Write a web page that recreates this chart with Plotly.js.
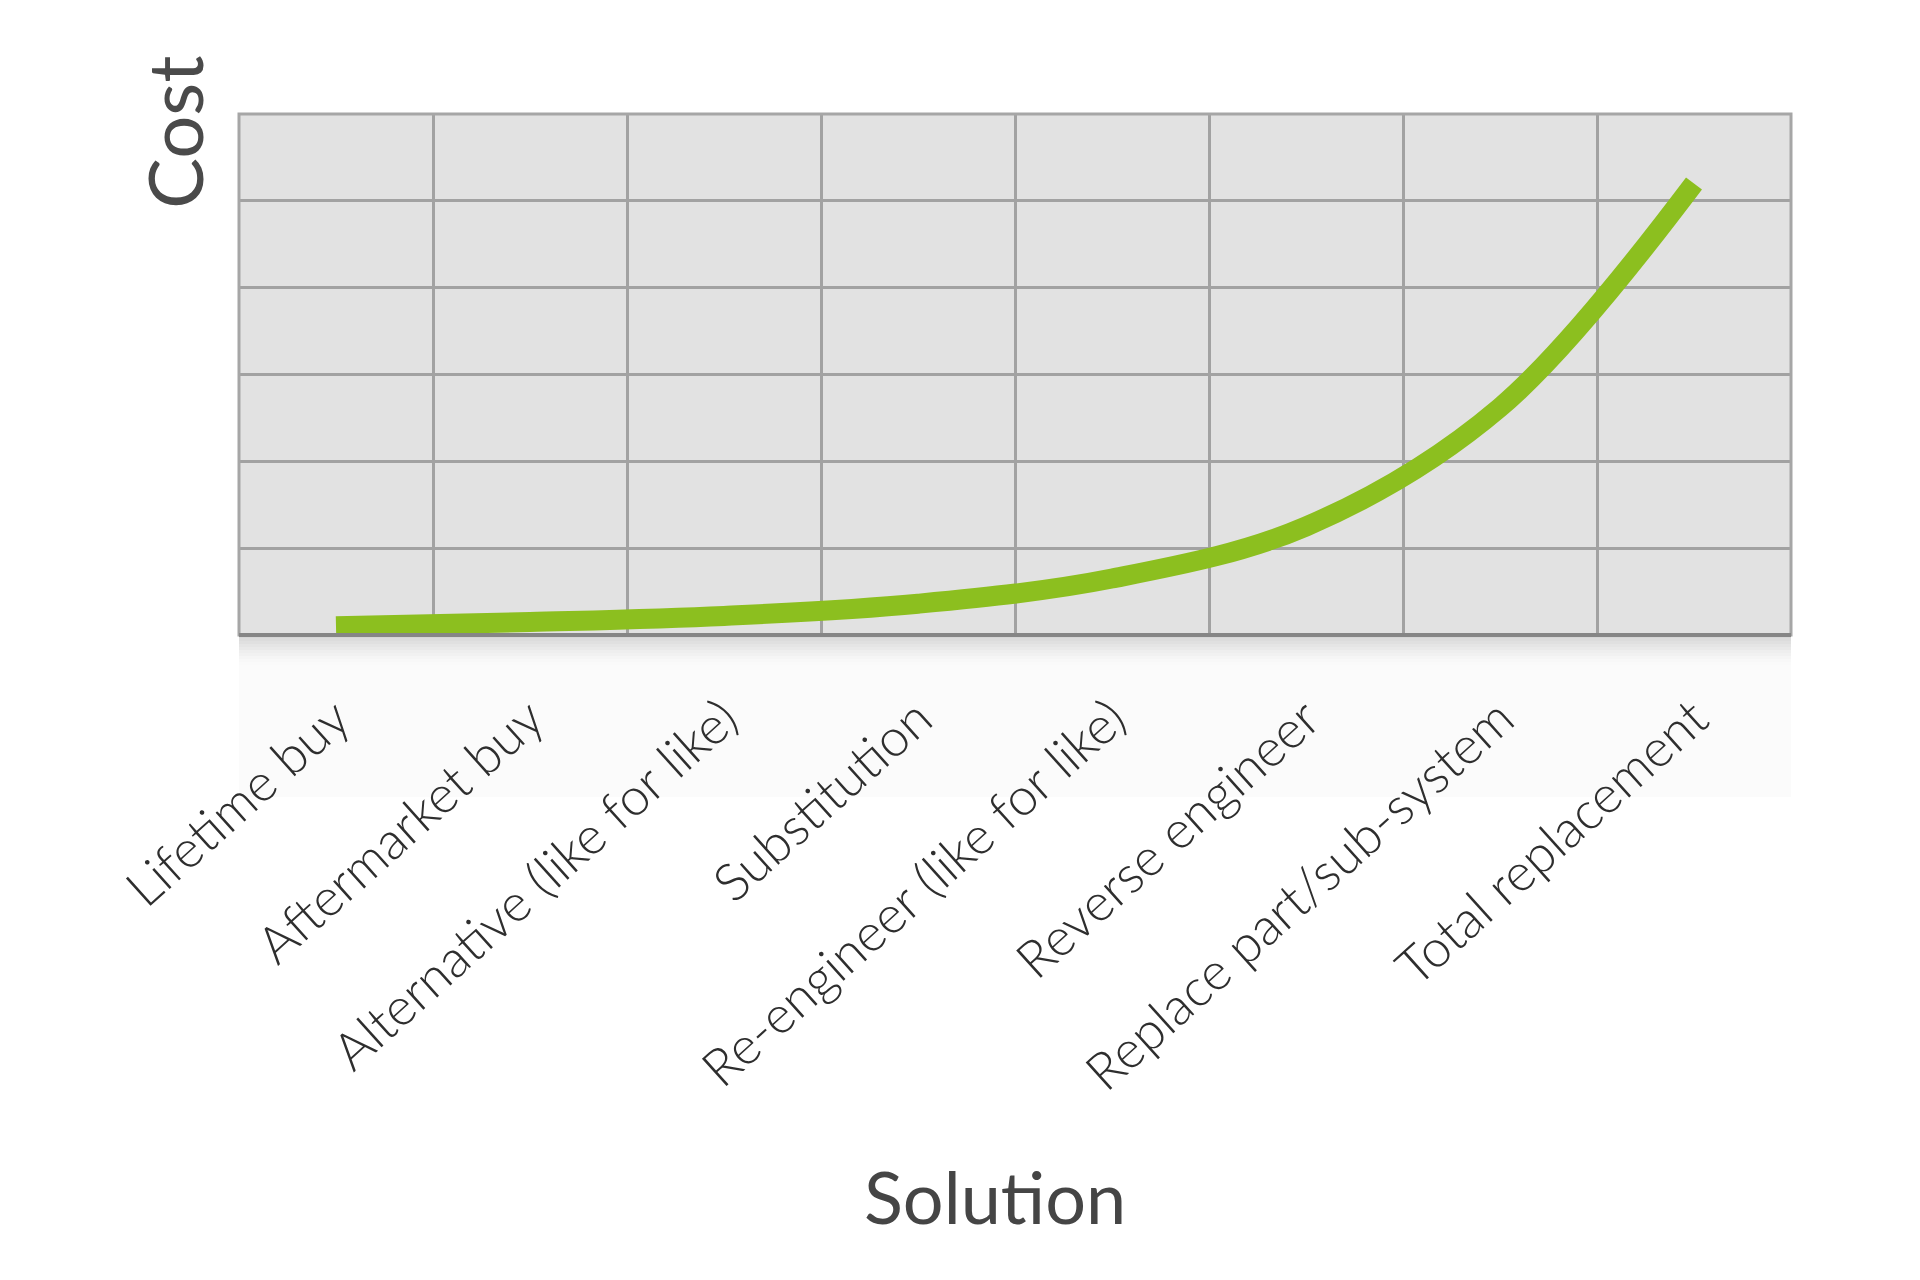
<!DOCTYPE html>
<html>
<head>
<meta charset="utf-8">
<script src="https://cdn.plot.ly/plotly-3.0.1.min.js"></script>
<style>
  html, body { margin: 0; padding: 0; background: #fff; }
  #chart { width: 1920px; height: 1280px; }
</style>
</head>
<body>
<div id="chart"></div>
<script>
// categories along the bottom, left to right
var solutions = [
  'Lifetime buy',
  'Aftermarket buy',
  'Alternative (like for like)',
  'Substitution',
  'Re-engineer (like for like)',
  'Reverse engineer',
  'Replace part/sub-system',
  'Total replacement'
];

// relative cost (one grid row = 1)
var cost = [0.10, 0.15, 0.22, 0.36, 0.65, 1.25, 2.62, 5.2];

var gridRows = 6;

try {
  var trace = {
    x: solutions,
    y: cost,
    mode: 'lines',
    type: 'scatter',
    line: { color: '#8cbf1f', width: 20, shape: 'spline', smoothing: 1 },
    hoverinfo: 'skip'
  };

  // soft shadow under the bottom axis
  var shapes = [];
  var plotH = 1280 - 114 - 645;
  // faint panel under the labels
  shapes.push({
    type: 'rect', xref: 'paper', yref: 'paper', layer: 'below',
    x0: 0, x1: 1, y0: 0, y1: -162 / plotH,
    fillcolor: 'rgba(0,0,0,0.014)', line: { width: 0 }
  });
  for (var i = 0; i < 10; i++) {
    shapes.push({
      type: 'rect', xref: 'paper', yref: 'paper', layer: 'below',
      x0: 0, x1: 1,
      y0: -(i * 3) / plotH, y1: -((i + 1) * 3) / plotH,
      fillcolor: 'rgba(110,110,110,' + (0.26 * Math.pow(1 - i / 10, 1.5)).toFixed(3) + ')',
      line: { width: 0 }
    });
  }
  // frame and darker base line
  shapes.push({
    type: 'rect', xref: 'paper', yref: 'paper', layer: 'above',
    x0: 0, x1: 1, y0: 0, y1: 1,
    line: { color: '#a6a6a6', width: 3 }
  });
  shapes.push({
    type: 'line', xref: 'paper', yref: 'paper', layer: 'above',
    x0: 0, x1: 1, y0: 0, y1: 0,
    line: { color: '#868686', width: 4 }
  });

  var layout = {
    width: 1920,
    height: 1280,
    margin: { l: 239, r: 129, t: 114, b: 645 },
    paper_bgcolor: '#ffffff',
    plot_bgcolor: '#e2e2e2',
    showlegend: false,
    xaxis: {
      type: 'category',
      range: [-0.5, solutions.length - 0.5],
      tickson: 'boundaries',
      showgrid: true,
      gridcolor: '#a2a2a2',
      gridwidth: 3,
      ticks: '',
      showline: false,
      zeroline: false,
      tickangle: -42,
      ticklabelstandoff: 42,
      tickfont: { family: 'Lato, "Open Sans", sans-serif', size: 52, weight: 300, color: '#2e2e2e' }
    },
    yaxis: {
      range: [0, gridRows],
      dtick: 1,
      showgrid: true,
      gridcolor: '#a2a2a2',
      gridwidth: 3,
      showticklabels: false,
      ticks: '',
      zeroline: false,
      showline: false
    },
    shapes: shapes,
    annotations: [
      {
        text: 'Cost', xref: 'paper', yref: 'paper',
        x: -0.042, y: 0.9655, xanchor: 'center', yanchor: 'middle',
        textangle: -90, showarrow: false,
        font: { family: 'Lato, "Open Sans", sans-serif', size: 76, color: '#4a4a4a' }
      },
      {
        text: 'Solution', xref: 'paper', yref: 'paper',
        x: 0.487, y: -1.077, xanchor: 'center', yanchor: 'middle',
        showarrow: false,
        font: { family: 'Lato, "Open Sans", sans-serif', size: 72, color: '#454545' }
      }
    ]
  };

  Plotly.newPlot('chart', [trace], layout, { displayModeBar: false, staticPlot: true });
} catch (e) {
  console.log('failed');
  console.log(e);
}
</script>
</body>
</html>
